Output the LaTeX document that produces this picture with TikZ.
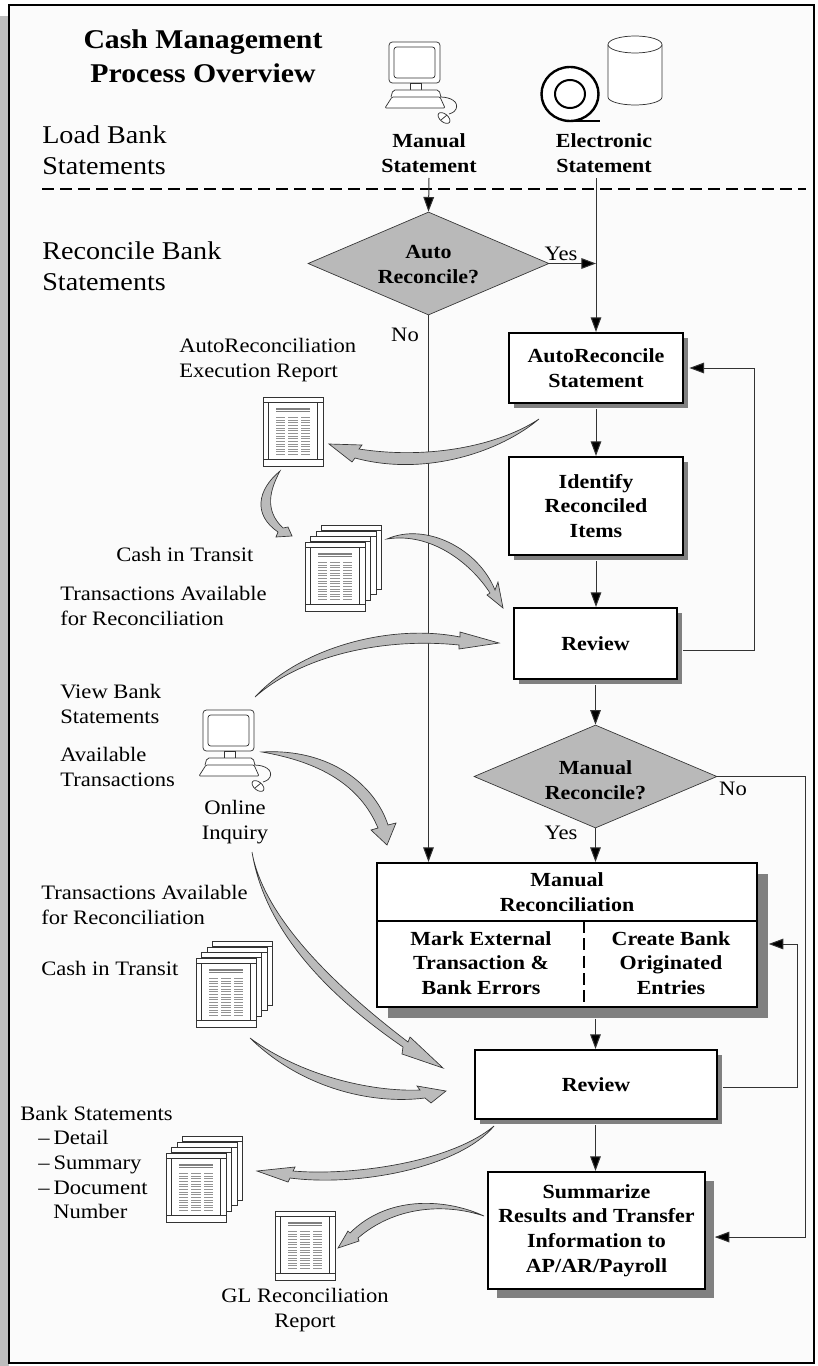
\documentclass[tikz,border=0pt]{standalone}
\usepackage{fontspec}
\setmainfont{Liberation Serif}[FakeStretch=1.1]
\usetikzlibrary{shapes.geometric,arrows.meta,shadows,calc}
\definecolor{pagebg}{HTML}{FBFBFB}
\definecolor{sidegrey}{HTML}{BDBDBD}
\definecolor{diamgrey}{HTML}{B9B9B9}
\definecolor{shadegrey}{HTML}{808080}
\definecolor{arrowgrey}{HTML}{BBBBBB}
\definecolor{inkgrey}{HTML}{333333}
\tikzset{
  lbl/.style={inner sep=0pt,align=left,font=\fontsize{15.4}{18.5}\selectfont},
  lblc/.style={lbl,align=center},
  biglbl/.style={inner sep=0pt,align=left,anchor=west,font=\fontsize{19.2}{23.2}\selectfont},
  boldlbl/.style={inner sep=0pt,align=center,font=\fontsize{15}{18.5}\selectfont\bfseries},
  procbox/.style={draw=black,line width=1.6pt,fill=white,inner sep=0pt,align=center,
    font=\fontsize{15}{18.5}\selectfont\bfseries,
    drop shadow={shadow xshift=#1,shadow yshift=-#1,opacity=1,fill=shadegrey}},
  procbox/.default=4pt,
  decis/.style={diamond,draw=inkgrey,line width=.5pt,fill=diamgrey,inner sep=0pt,aspect=2.34},
  conn/.style={draw=inkgrey,line width=.75pt,-{Triangle[length=11pt,width=8pt,fill=black]}},
  blockarrow/.style={draw=inkgrey,line width=.5pt,fill=arrowgrey,line join=miter},
  tiny/.style={line width=.55pt,draw=inkgrey},
  computer/.pic={
    \draw[tiny,fill=white,rounded corners=2.5pt] (0,0) rectangle (51,41);
    \draw[tiny,rounded corners=2pt] (5,5) rectangle (46,36);
    \draw[tiny,fill=white] (21,41) rectangle (32,48);
    \draw[tiny,fill=white,rounded corners=1.5pt] (2,55) -- (4,48) -- (50,48) -- (52,55);
    \draw[tiny,fill=white,rounded corners=.8pt] (3,55) -- (51,55) -- (56,66) -- (-4,66) -- cycle;
    \draw[tiny] (51,55) .. controls (62,55) and (70,60) .. (67,67) .. controls (65,71) and (62,71) .. (60,72);
    \draw[tiny,fill=white,rotate around={-40:(55,76)}] (55,76) ellipse (7 and 4);
    \draw[tiny] (52,78) -- (58,73);
  },
  sheetbody/.pic={
    \draw[tiny,fill=white] (0,0) rectangle (60,69);
    \draw[tiny] (0,5.5) -- (60,5.5) (0,62.5) -- (60,62.5) (5.5,5.5) -- (5.5,62.5) (54.5,5.5) -- (54.5,62.5);
    \draw[line width=1pt,draw=gray] (13,12) -- (47,12);
    \draw[line width=.5pt,draw=gray] (13,14.8) -- (47,14.8);
    \foreach \k in {0,...,14}{
      \draw[line width=.7pt,draw=gray!85] (13,{20.5+\k*2.65}) -- (22,{20.5+\k*2.65})
        (25,{20.5+\k*2.65}) -- (35,{20.5+\k*2.65}) (38,{20.5+\k*2.65}) -- (47,{20.5+\k*2.65});
    }
  },
  sheetstack/.pic={
    \foreach \k in {3,2,1}{
      \draw[tiny,fill=white] ({\k*5.6},{-\k*5.4}) rectangle ({60+\k*5.6},{63.6-\k*5.4});
      \draw[tiny] ({\k*5.6},{5-\k*5.4}) -- ({60+\k*5.6},{5-\k*5.4});
    }
    \pic at (0,0) {sheetbody};
  },
}
\begin{document}
\begin{tikzpicture}[x=.75pt,y=-.75pt]
\useasboundingbox (0,0) rectangle (817,1366);
\fill[white] (0,0) rectangle (817,1366);
\fill[sidegrey] (0,16) rectangle (9,1366);
\draw[draw=black,line width=1.6pt,fill=pagebg] (9,5) rectangle (814,1363);

% titles
\node[inner sep=0pt,align=center,font=\fontsize{20.3}{25.5}\selectfont\bfseries] (title) at (203,56) {Cash Management\\Process Overview};
\node[biglbl] (load) at (42,150) {Load Bank\\Statements};
\node[biglbl] (recon) at (42,266) {Reconcile Bank\\Statements};

\draw[line width=1.5pt,dash pattern=on 9pt off 4.5pt] (42,189) -- (806,189);

% sources
\pic at (389,42) {computer};
\draw[line width=1.8pt,fill=white] (570,94) ellipse (28.5 and 27);
\draw[line width=1.5pt] (570,94) ellipse (15 and 14);
\draw[line width=2pt] (570,121) -- (600,121);
\draw[tiny,fill=white] (608,45) -- (608,97) arc[start angle=180,end angle=0,x radius=27,y radius=8] -- (662,45);
\draw[tiny,fill=white] (635,44.5) ellipse (27 and 8.5);

\node[boldlbl] (manstmt) at (429,153) {Manual\\Statement};
\node[boldlbl] (elstmt) at (604,153) {Electronic\\Statement};

% decisions and process boxes
\node[decis,minimum width=241*.75pt,minimum height=103*.75pt] (auto) at (428.5,263.5) {};
\node[boldlbl] (autotext) at (428.5,264.5) {Auto\\Reconcile?};
\node[decis,minimum width=243*.75pt,minimum height=103*.75pt] (mandec) at (595.5,776.5) {};
\node[boldlbl] (mandectext) at (595.5,780.5) {Manual\\Reconcile?};

\node[procbox,minimum width=174*.75pt,minimum height=70*.75pt] (autorec) at (596,368) {AutoReconcile\\Statement};
\node[procbox,minimum width=174*.75pt,minimum height=98*.75pt] (identify) at (596,506) {Identify\\Reconciled\\Items};
\node[procbox,minimum width=163*.75pt,minimum height=71*.75pt] (rev1) at (595.5,643.5) {Review};
\node[procbox=8pt,minimum width=380*.75pt,minimum height=144*.75pt] (manrec) at (567,935) {};
\node[boldlbl] (manrectitle) at (567,892) {Manual\\Reconciliation};
\draw[line width=1.3pt] (manrec.west |- 0,921) -- (manrec.east |- 0,921);
\draw[line width=1.3pt,dash pattern=on 9pt off 4pt] (584,921) -- (584,1006);
\node[boldlbl] (markext) at (481,963) {Mark External\\Transaction \&\\Bank Errors};
\node[boldlbl] (create) at (671,963) {Create Bank\\Originated\\Entries};
\node[procbox,minimum width=242*.75pt,minimum height=69*.75pt] (rev2) at (596,1084.5) {Review};
\node[procbox=6.5pt,minimum width=217*.75pt,minimum height=117*.75pt] (summ) at (596.5,1230.5) {Summarize\\Results and Transfer\\Information to\\AP/AR/Payroll};

% connectors
\draw[conn] (manstmt.south |- 0,178) -- (auto.north);
\draw[conn] (autorec.north |- 0,178) -- (autorec.north);
\draw[conn] (auto.east) -- (auto.east -| autorec.north);
\node[lbl] (yes1) at (561,254) {Yes};
\draw[conn] (auto.south) -- (auto.south |- manrec.north);
\node[lbl] (no1) at (405,335) {No};
\draw[conn] ([yshift=-3.75pt]autorec.south) -- (identify.north -| autorec.south);
\draw[conn] ([yshift=-3.75pt]identify.south) -- (rev1.north -| identify.south);
\draw[conn] ([yshift=-3.75pt]rev1.south) -- (mandec.north);
\draw[conn] (mandec.south) -- (mandec.south |- manrec.north);
\node[lbl] (yes2) at (561,833) {Yes};
\node[lbl] (no2) at (733,789) {No};
\draw[conn] ([yshift=-8pt]manrec.south -| mandec.south) -- (rev2.north -| mandec.south);
\draw[conn] ([yshift=-3.75pt]rev2.south -| mandec.south) -- (summ.north -| mandec.south);
\draw[conn] ([shift={(3.75pt,-4.9pt)}]rev1.east) -- ++(71,0) |- ([xshift=4pt]autorec.east);
\draw[conn] (mandec.east) -- ++(88,0) |- ([shift={(6.5pt,-4.9pt)}]summ.east);
\draw[conn] ([shift={(3.75pt,-1.9pt)}]rev2.east) -- ++(74,0) |- ([xshift=8pt]manrec.east |- 0,944);

% reports
\pic at (263,397) {sheetbody};
\pic at (305,542) {sheetstack};
\pic at (196,958) {sheetstack};
\pic at (166,1153) {sheetstack};
\pic at (275,1211) {sheetbody};
\pic at (203,710) {computer};

% labels
\node[lbl,anchor=west] (execrep) at (179,360) {AutoReconciliation\\Execution Report};
\node[lbl,anchor=west] (cit1) at (116,554) {Cash in Transit};
\node[lbl,anchor=west] (tafr1) at (60,606) {Transactions Available\\for Reconciliation};
\node[lbl,anchor=west] (vbs) at (60,704) {View Bank\\Statements};
\node[lbl,anchor=west] (avtr) at (60,767) {Available\\Transactions};
\node[lblc] (online) at (235,822) {Online\\Inquiry};
\node[lbl,anchor=west] (tafr2) at (41,905) {Transactions Available\\for Reconciliation};
\node[lbl,anchor=west] (cit2) at (41,968) {Cash in Transit};
\node[lbl,anchor=base west] (bankst) at (20,1120) {Bank Statements};
\node[lbl,anchor=base west] (bs1) at (38,1144) {–\hspace{3pt}Detail};
\node[lbl,anchor=base west] (bs2) at (38,1169) {–\hspace{3pt}Summary};
\node[lbl,anchor=base west] (bs3) at (38,1194) {–\hspace{3pt}Document};
\node[lbl,anchor=base west] (bs4) at (53,1218) {Number};
\node[lblc] (glrep) at (305,1310) {GL Reconciliation\\Report};

% block arrows
\draw[blockarrow] (539,419) .. controls (500,445) and (430,460) .. (359,449) -- (362,445) -- (329,444) -- (352,462) -- (355,458) .. controls (425,477) and (500,452) .. (539,419) -- cycle;
\draw[blockarrow] (280,471) .. controls (270,490) and (264,510) .. (283,528) -- (288,527) -- (292,536) -- (276,537) -- (278,532) .. controls (253,515) and (257,490) .. (280,471) -- cycle;
\draw[blockarrow] (387,539) .. controls (425,522) and (478,548) .. (495,590) -- (498,582) -- (503,608) -- (487,595) -- (490,593) .. controls (470,562) and (430,532) .. (387,539) -- cycle;
\draw[blockarrow] (255,697) .. controls (300,648) and (390,623) .. (460,637) -- (460,632) -- (499,643) -- (459,649) -- (459,645) .. controls (380,637) and (300,657) .. (255,697) -- cycle;
\draw[blockarrow] (262,752) .. controls (330,748) and (375,785) .. (388,825) -- (396,823) -- (387,845) -- (371,830) -- (378,828) .. controls (360,785) and (320,762) .. (262,752) -- cycle;
\draw[blockarrow] (252,852) .. controls (264,920) and (340,990) .. (408,1042) -- (410,1037) -- (443,1068) -- (402,1054) -- (403,1047) .. controls (330,997) and (265,932) .. (252,852) -- cycle;
\draw[blockarrow] (250,1038) .. controls (300,1075) and (370,1092) .. (420,1090) -- (417,1086) -- (446,1091) -- (431,1103) -- (425,1098) .. controls (370,1105) and (300,1087) .. (250,1038) -- cycle;
\draw[blockarrow] (494,1126) .. controls (450,1163) and (350,1176) .. (293,1171) -- (295,1167) -- (257,1171) -- (288,1182) -- (290,1178) .. controls (360,1187) and (460,1167) .. (494,1126) -- cycle;
\draw[blockarrow] (484,1216) .. controls (450,1200) and (390,1193) .. (350,1233) -- (348,1231) -- (338,1248) -- (359,1241) -- (358,1238) .. controls (395,1206) and (445,1203) .. (484,1216) -- cycle;
\end{tikzpicture}
\end{document}
